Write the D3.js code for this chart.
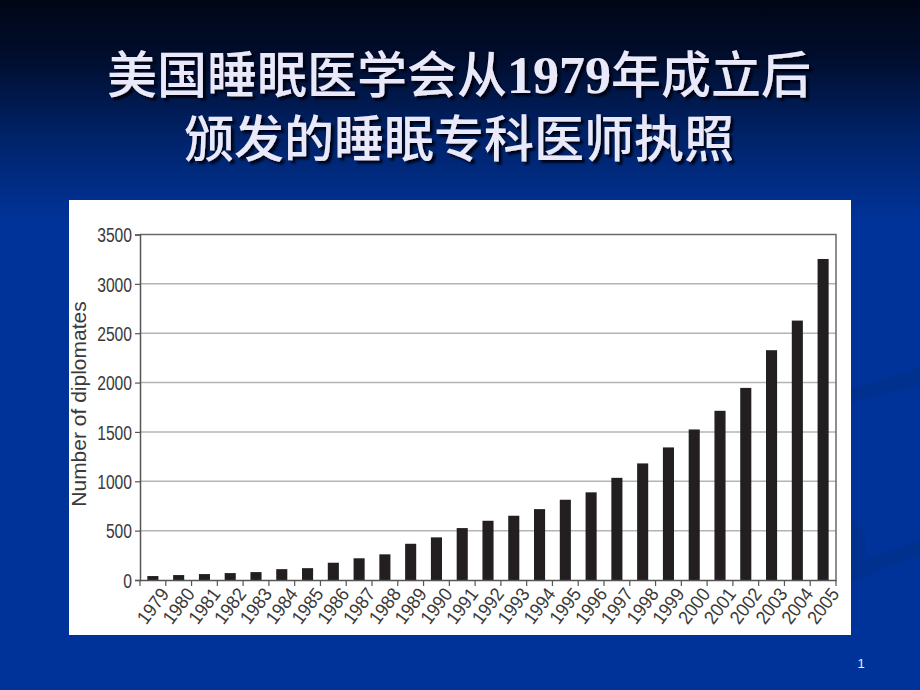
<!DOCTYPE html>
<html>
<head>
<meta charset="utf-8">
<script src="https://cdn.jsdelivr.net/npm/d3@7"></script>
<style>
  html, body { margin: 0; padding: 0; background: #003399; }
  svg { display: block; }
</style>
</head>
<body>
<svg width="920" height="690"></svg>
<script>
document.addEventListener('DOMContentLoaded', function() {

const years = ["1979", "1980", "1981", "1982", "1983", "1984", "1985", "1986", "1987",
    "1988", "1989", "1990", "1991", "1992", "1993", "1994", "1995", "1996", "1997",
    "1998", "1999", "2000", "2001", "2002", "2003", "2004", "2005"];
const diplomates = [40, 50, 60, 70, 80, 110, 120, 175, 220,
    260, 367, 432, 526, 600, 651, 718, 813, 888, 1035,
    1181, 1343, 1525, 1714, 1946, 2328, 2628, 3252];
const yTicks = [0, 500, 1000, 1500, 2000, 2500, 3000, 3500];
const titleLines = [
    [["美国睡眠医学会从", "cjk"], ["1979", "num"], ["年成立后", "cjk"]],
    [["颁发的睡眠专科医师执照", "cjk"]]
];
const yLabel = "Number of diplomates";
const pageNo = "1";

const svg = d3.select("svg");
const W = 920, H = 690;

// background gradient
const defs = svg.append("defs");
const grad = defs.append("linearGradient")
    .attr("id", "bg").attr("x1", 0).attr("y1", 0).attr("x2", 0).attr("y2", 1);
grad.append("stop").attr("offset", "0%").attr("stop-color", "#000616");
grad.append("stop").attr("offset", "8%").attr("stop-color", "#000d2c");
grad.append("stop").attr("offset", "20%").attr("stop-color", "#00236a");
grad.append("stop").attr("offset", "32%").attr("stop-color", "#003399");
grad.append("stop").attr("offset", "100%").attr("stop-color", "#003399");

svg.append("rect").attr("width", W).attr("height", H).attr("fill", "url(#bg)");

// faint template swooshes on the right
svg.append("path")
    .attr("d", "M830,395 Q880,380 920,368 L920,385 Q880,396 830,408 Z")
    .attr("fill", "#00318f");
svg.append("path")
    .attr("d", "M830,570 Q880,555 920,540 L920,555 Q880,570 830,590 Z")
    .attr("fill", "#00318f");
svg.append("path")
    .attr("d", "M850,520 Q870,530 865,555 Q860,565 850,568 Z")
    .attr("fill", "#00318f");

// title with drop shadow
const shadow = defs.append("filter").attr("id", "shadow")
    .attr("x", "-5%").attr("y", "-20%").attr("width", "110%").attr("height", "140%");
shadow.append("feDropShadow").attr("dx", 3).attr("dy", 3).attr("stdDeviation", 0.8)
    .attr("flood-color", "#000010").attr("flood-opacity", 0.9);

const titleBase = [93, 157];
titleLines.forEach((parts, i) => {
    const t = svg.append("text")
        .attr("x", 459).attr("y", titleBase[i])
        .attr("text-anchor", "middle")
        .attr("fill", "#e9e9fa")
        .attr("filter", "url(#shadow)");
    parts.forEach(([s, kind]) => {
        t.append("tspan")
            .text(s)
            .attr("font-family", kind === "num" ? "'Liberation Serif', serif" : "'Noto Sans CJK SC', sans-serif")
            .attr("font-weight", kind === "num" ? "bold" : "500")
            .attr("font-size", kind === "num" ? "52px" : "50px");
    });
});

// chart panel
svg.append("rect")
    .attr("x", 69).attr("y", 200).attr("width", 782).attr("height", 435)
    .attr("fill", "#ffffff");

const plot = { left: 140, right: 836, top: 234.5, bottom: 580 };

const x = d3.scaleBand()
    .domain(years)
    .range([plot.left, plot.right])
    .paddingInner(0.57)
    .paddingOuter(0.285);

const y = d3.scaleLinear()
    .domain([0, 3500])
    .range([plot.bottom, plot.top]);

const textFont = "'Liberation Sans', Arial, sans-serif";
const digitW = 8.7; // narrow digits of the original figure

// gridlines
svg.append("g")
    .selectAll("line")
    .data(yTicks.filter(d => d > 0 && d < 3500))
    .enter()
    .append("line")
    .attr("x1", plot.left).attr("x2", plot.right)
    .attr("y1", d => y(d)).attr("y2", d => y(d))
    .attr("stroke", "#b4b4b4")
    .attr("stroke-width", 1.5);

// frame top + right
svg.append("path")
    .attr("d", `M${plot.left},${y(3500)}H${plot.right}V${plot.bottom}`)
    .attr("fill", "none")
    .attr("stroke", "#6a6a6a")
    .attr("stroke-width", 1.5);

// bars
svg.append("g")
    .selectAll("rect")
    .data(years.map((yr, i) => ({ year: yr, value: diplomates[i] })))
    .enter()
    .append("rect")
    .attr("x", d => x(d.year))
    .attr("width", x.bandwidth())
    .attr("y", d => y(d.value))
    .attr("height", d => y(0) - y(d.value))
    .attr("fill", "#231f20");

// y axis
const yAxis = svg.append("g")
    .attr("transform", `translate(${plot.left},0)`)
    .call(d3.axisLeft(y).tickValues(yTicks).tickSize(5).tickPadding(3).tickFormat(d3.format("d")));
yAxis.select(".domain").attr("stroke", "#555").attr("stroke-width", 1.5);
yAxis.selectAll(".tick line").attr("stroke", "#555").attr("stroke-width", 1.2);
yAxis.selectAll(".tick text")
    .attr("fill", "#3a3a3a")
    .attr("font-family", textFont)
    .attr("font-size", "20px")
    .attr("dy", "0.36em")
    .attr("textLength", d => String(d).length * digitW)
    .attr("lengthAdjust", "spacingAndGlyphs");

// x axis
const xAxis = svg.append("g")
    .attr("transform", `translate(0,${plot.bottom})`)
    .call(d3.axisBottom(x).tickSize(0).tickFormat(""));
xAxis.select(".domain").attr("stroke", "#555").attr("stroke-width", 1.5);

// tick marks at category boundaries
const half = x.step() * x.paddingInner() / 2;
const bounds = years.map(d => x(d) - half).concat([x(years[years.length - 1]) + x.bandwidth() + half]);
svg.append("g")
    .selectAll("line")
    .data(bounds)
    .enter()
    .append("line")
    .attr("x1", d => d).attr("x2", d => d)
    .attr("y1", plot.bottom).attr("y2", plot.bottom + 6)
    .attr("stroke", "#555")
    .attr("stroke-width", 1.2);

// rotated year labels
svg.append("g")
    .selectAll("text")
    .data(years)
    .enter()
    .append("text")
    .text(d => d)
    .attr("transform", d => `translate(${x(d) + x.bandwidth() / 2 + 6},${plot.bottom + 6}) rotate(-53)`)
    .attr("text-anchor", "end")
    .attr("dy", "0.72em")
    .attr("textLength", d => d.length * 9.8)
    .attr("lengthAdjust", "spacingAndGlyphs")
    .attr("fill", "#3a3a3a")
    .attr("font-family", textFont)
    .attr("font-size", "19px");

// y label
svg.append("text")
    .text(yLabel)
    .attr("transform", `translate(86,404) rotate(-90)`)
    .attr("text-anchor", "middle")
    .attr("fill", "#3a3a3a")
    .attr("font-family", textFont)
    .attr("font-size", "21px");

// page number
svg.append("text")
    .text(pageNo)
    .attr("x", 861).attr("y", 668)
    .attr("text-anchor", "middle")
    .attr("fill", "#e8ecff")
    .attr("font-family", textFont)
    .attr("font-size", "13px");

});
</script>
</body>
</html>
